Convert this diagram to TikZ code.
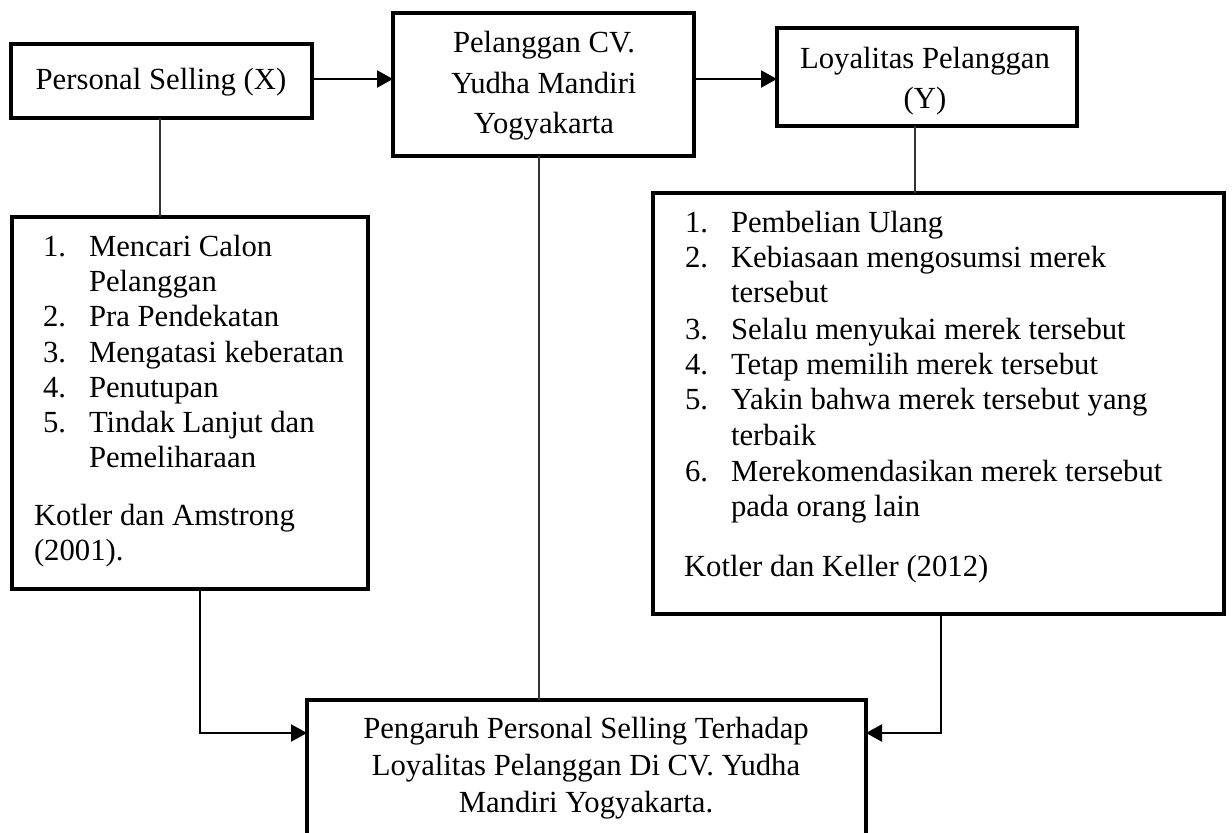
\documentclass[tikz,border=0pt]{standalone}
\usepackage{fontspec}
\setmainfont{Liberation Serif}
\usetikzlibrary{arrows.meta,calc}
\begin{document}
\begin{tikzpicture}[x=0.5pt,y=-0.5pt,
  box/.style={draw,line width=1.6pt,rectangle,inner sep=0pt,outer sep=0pt},
  txt/.style={inner sep=0pt,outer sep=0pt,font=\fontsize{15.35pt}{17.7pt}\selectfont},
  lt/.style={txt,anchor=base west},
  ct/.style={txt,anchor=base},
  thinline/.style={line width=0.55pt,draw=black!80},
  arr/.style={line width=1.1pt,-{Triangle[length=8pt,width=8.5pt]}}]
\clip (0,0) rectangle (1232,832);
\fill[white] (0,0) rectangle (1232,832);

% boxes
\node[box,minimum width=150.5pt,minimum height=37pt] (A) at (161.5,81) {};
\node[box,minimum width=150.5pt,minimum height=71.5pt] (B) at (543.5,84.5) {};
\node[box,minimum width=150pt,minimum height=49pt] (C) at (927,77) {};
\node[box,minimum width=178pt,minimum height=186pt] (L1) at (190,403) {};
\node[box,minimum width=285.5pt,minimum height=210.5pt] (D) at (938.5,403.5) {};
\node[box,minimum width=279.5pt,minimum height=90pt] (E) at (586.5,790) {};

% box texts
\node[ct] (ta) at (161,89) {Personal Selling (X)};
\node[ct] (tb1) at (544,52) {Pelanggan CV.};
\node[ct] (tb2) at (544,93) {Yudha Mandiri};
\node[ct] (tb3) at (544,133) {Yogyakarta};
\node[ct] (tc1) at (925,68) {Loyalitas Pelanggan};
\node[ct] (tc2) at (925,108) {(Y)};
\node[ct] (te1) at (586,738) {Pengaruh Personal Selling Terhadap};
\node[ct] (te2) at (586,775) {Loyalitas Pelanggan Di CV. Yudha};
\node[ct] (te3) at (586,812) {Mandiri Yogyakarta.};

% list 1
\node[lt] (n11) at (43,256) {1.};
\node[lt] (i11) at (89,256) {Mencari Calon};
\node[lt] (i11b) at (89,291) {Pelanggan};
\node[lt] (n12) at (43,326) {2.};
\node[lt] (i12) at (89,326) {Pra Pendekatan};
\node[lt] (n13) at (43,362) {3.};
\node[lt] (i13) at (89,362) {Mengatasi keberatan};
\node[lt] (n14) at (43,397) {4.};
\node[lt] (i14) at (89,397) {Penutupan};
\node[lt] (n15) at (43,432) {5.};
\node[lt] (i15) at (89,432) {Tindak Lanjut dan};
\node[lt] (i15b) at (89,467) {Pemeliharaan};
\node[lt] (r1a) at (34,525) {Kotler dan Amstrong};
\node[lt] (r1b) at (34,560) {(2001).};

% list 2
\node[lt] (n21) at (685,232) {1.};
\node[lt] (i21) at (731,232) {Pembelian Ulang};
\node[lt] (n22) at (685,267) {2.};
\node[lt] (i22) at (731,267) {Kebiasaan mengosumsi merek};
\node[lt] (i22b) at (731,302) {tersebut};
\node[lt] (n23) at (685,339) {3.};
\node[lt] (i23) at (731,339) {Selalu menyukai merek tersebut};
\node[lt] (n24) at (685,374) {4.};
\node[lt] (i24) at (731,374) {Tetap memilih merek tersebut};
\node[lt] (n25) at (685,409) {5.};
\node[lt] (i25) at (731,409) {Yakin bahwa merek tersebut yang};
\node[lt] (i25b) at (731,445) {terbaik};
\node[lt] (n26) at (685,481) {6.};
\node[lt] (i26) at (731,481) {Merekomendasikan merek tersebut};
\node[lt] (i26b) at (731,516) {pada orang lain};
\node[lt] (r2) at (684,576) {Kotler dan Keller (2012)};

% helper coordinates
\coordinate (ax) at (160,0);
\coordinate (bx) at (539,0);
\coordinate (cx) at (915,0);
\coordinate (lx) at (200,0);
\coordinate (sx) at (93,0);
\coordinate (dx) at (941,0);
\coordinate (ay) at (0,79);
\coordinate (ey) at (0,733);

% connectors
\draw[thinline] (A.south -| ax) -- (L1.north -| ax);
\draw[thinline] (B.south -| bx) -- (E.north -| bx);
\draw[thinline] (C.south -| cx) -- (D.north -| cx);
\draw[arr] (A.east |- ay) -- (B.west |- ay);
\draw[arr] (B.east |- ay) -- (C.west |- ay);
\draw[arr] (L1.south -| lx) -- (lx |- ey) -- (E.west |- ey);
\draw[arr] (D.south -| dx) -- (dx |- ey) -- (E.east |- ey);
\draw[line width=2.3pt] (L1.south -| sx) -- (L1.south -| lx);
\end{tikzpicture}
\end{document}
